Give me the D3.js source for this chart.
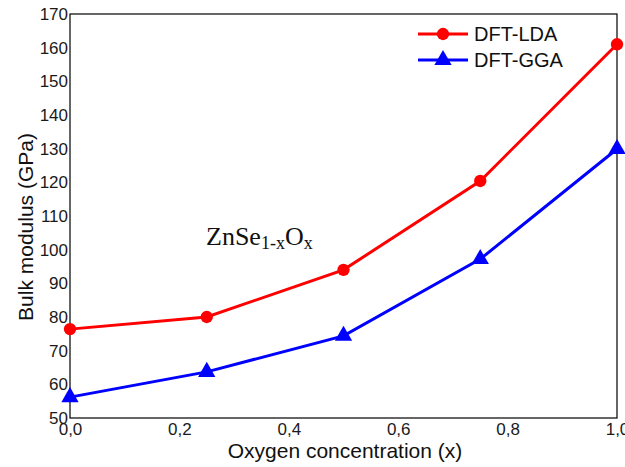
<!DOCTYPE html>
<html>
<head>
<meta charset="utf-8">
<script src="https://cdn.jsdelivr.net/npm/d3@7"></script>
<style>
  body { margin: 0; background: #fff; }
  svg { display: block; }
</style>
</head>
<body>
<svg id="chart" width="625" height="467"></svg>
<script>
// data
const oxygen = [0, 0.25, 0.5, 0.75, 1.0];
const lda = [76.4, 80, 94, 120.4, 161];
const gga = [56.2, 63.7, 74.4, 97.2, 129.9];
const xTicks = [0, 0.2, 0.4, 0.6, 0.8, 1.0];
const yTicks = [50, 60, 70, 80, 90, 100, 110, 120, 130, 140, 150, 160, 170];

const margin = {top: 14, right: 8, bottom: 49, left: 70};
const width = 625 - margin.left - margin.right,
      height = 467 - margin.top - margin.bottom;

const svg = d3.select('#chart');
const g = svg.append('g')
    .attr('transform', 'translate(' + margin.left + ',' + margin.top + ')');

const x = d3.scaleLinear().domain([0, 1]).range([0, width]);
const y = d3.scaleLinear().domain([50, 170]).range([height, 0]);

const fmt = d => d3.format('.1f')(d).replace('.', ',');
const sans = 'Arial, "Liberation Sans", sans-serif';

// axes, no tick marks
const xAxis = g.append('g')
    .attr('transform', 'translate(0,' + height + ')')
    .call(d3.axisBottom(x).tickValues(xTicks).tickFormat(fmt).tickSize(0).tickPadding(5));
const yAxis = g.append('g')
    .call(d3.axisLeft(y).tickValues(yTicks).tickFormat(d3.format('d')).tickSize(0).tickPadding(2));

[xAxis, yAxis].forEach(a => {
  a.select('.domain').remove();
  a.selectAll('text')
    .attr('font-family', sans)
    .attr('font-size', 17)
    .attr('fill', '#1a1a1a');
});

// frame
g.append('rect')
    .attr('width', width).attr('height', height)
    .attr('fill', 'none').attr('stroke', '#000').attr('stroke-width', 1.2);

const series = [
  {name: 'DFT-LDA', values: lda, color: '#ff0000', marker: 'circle'},
  {name: 'DFT-GGA', values: gga, color: '#0000ff', marker: 'triangle'}
];

const line = d3.line()
    .x((d, i) => x(oxygen[i]))
    .y(d => y(d));

const circleSym = d3.symbol().type(d3.symbolCircle).size(120);
const triSym = d3.symbol().type(d3.symbolTriangle).size(130);

series.forEach(s => {
  g.append('path')
      .datum(s.values)
      .attr('d', line)
      .attr('fill', 'none')
      .attr('stroke', s.color)
      .attr('stroke-width', 3);
  g.selectAll('.m-' + s.marker)
      .data(s.values)
      .enter()
      .append('path')
      .attr('class', 'm-' + s.marker)
      .attr('transform', (d, i) => 'translate(' + x(oxygen[i]) + ',' + y(d) + ')')
      .attr('d', s.marker === 'circle' ? circleSym : triSym)
      .attr('fill', s.color);
});

// legend
const legend = svg.append('g').attr('transform', 'translate(418,34)');
series.forEach((s, i) => {
  const row = legend.append('g').attr('transform', 'translate(0,' + (i * 26) + ')');
  row.append('line')
      .attr('x1', 0).attr('x2', 50)
      .attr('stroke', s.color).attr('stroke-width', 3);
  row.append('path')
      .attr('transform', 'translate(25,0)')
      .attr('d', s.marker === 'circle' ? circleSym : triSym)
      .attr('fill', s.color);
  row.append('text')
      .attr('x', 56).attr('y', 0).attr('dy', '0.35em')
      .attr('font-family', sans)
      .attr('font-size', 20)
      .attr('fill', '#111')
      .text(s.name);
});

// compound label
const lbl = svg.append('text')
    .attr('x', 206).attr('y', 245)
    .attr('font-family', '"Times New Roman", "Liberation Serif", serif')
    .attr('font-size', 26)
    .attr('fill', '#111');
lbl.append('tspan').text('ZnSe');
lbl.append('tspan').attr('font-size', 18).attr('dy', 4).text('1-x');
lbl.append('tspan').attr('dy', -4).text('O');
lbl.append('tspan').attr('font-size', 18).attr('dy', 4).text('x');

// axis titles
svg.append('text')
    .attr('x', 345).attr('y', 458)
    .attr('text-anchor', 'middle')
    .attr('font-family', sans)
    .attr('font-size', 21)
    .attr('fill', '#111')
    .text('Oxygen concentration (x)');

svg.append('text')
    .attr('transform', 'translate(33,227) rotate(-90)')
    .attr('text-anchor', 'middle')
    .attr('font-family', sans)
    .attr('font-size', 21)
    .attr('fill', '#111')
    .text('Bulk modulus (GPa)');
</script>
</body>
</html>
